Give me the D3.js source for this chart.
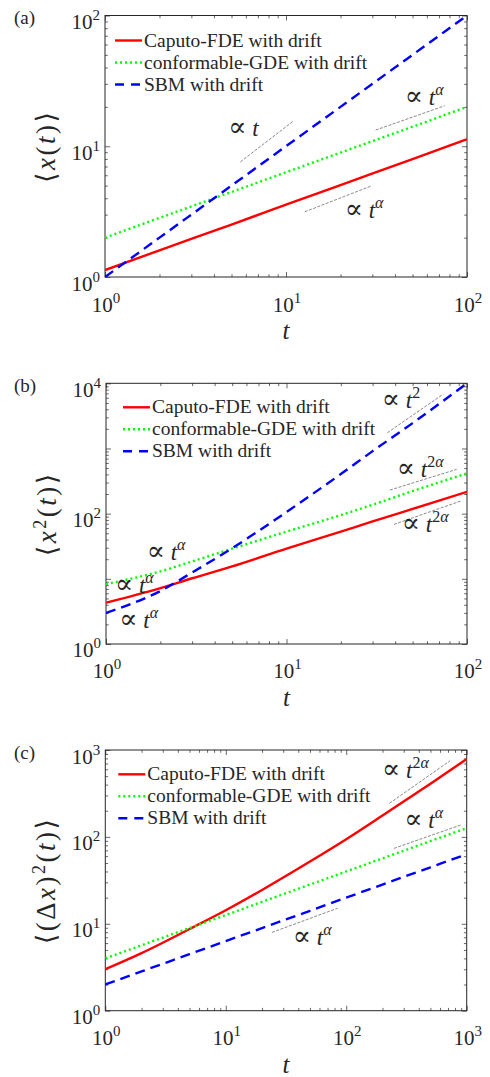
<!DOCTYPE html>
<html>
<head>
<meta charset="utf-8">
<script src="https://cdn.jsdelivr.net/npm/d3@7"></script>
<style>
body { margin: 0; background: #fff; }
svg text { font-family: "Liberation Serif", "DejaVu Serif", serif; fill: #262626; }
</style>
</head>
<body>
<div id="vis"></div>
<script>
const FRAME_WIDTH = 490;
const FRAME_HEIGHT = 1077;

const SERIES_NAMES = ["Caputo-FDE with drift", "conformable-GDE with drift", "SBM with drift"];
const SERIES_COLORS = ["#ff0000", "#00ff00", "#0000ff"];

// panel (a): <x(t)>
const T_A = [1, 2, 5, 10, 20, 50, 100];
const A_CAPUTO = [1.13, 1.6, 2.52, 3.57, 5.05, 7.98, 11.3];
const A_CONFORMABLE = [2.0, 2.83, 4.47, 6.32, 8.94, 14.1, 20.0];
const A_SBM = [1, 2, 5, 10, 20, 50, 100];
const A_GUIDES = [[5.6, 7.6, 11, 15.6], [31.3, 13.3, 75.3, 20.4], [12.7, 3.15, 29.7, 4.98]];
const A_NOTES = [[4.8, 11.9, ""], [45.3, 20.7, "α"], [21.1, 2.82, "α"]];

// panel (b): <x^2(t)>
const T_B = [1, 2, 3, 5, 10, 20, 30, 50, 100];
const B_CAPUTO = [4.3, 7.2, 10.2, 15.5, 29, 53, 76, 118, 216];
const B_CONFORMABLE = [8.3, 13, 18.5, 29, 53, 95, 137, 222, 415];
const B_SBM = [3, 6.5, 12.5, 29.5, 106, 405, 910, 2450, 10000];
const B_GUIDES = [[36.2, 1743, 73.9, 6830], [37.4, 230, 87.6, 478], [39.4, 68.4, 93.4, 158]];
const B_NOTES = [[33.7, 4120, "2"], [40.8, 368, "2α"], [43.5, 52.7, "2α"],
                 [1.68, 19.4, "α"], [1.12, 6.12, "α"], [1.185, 1.74, "α"]];

// panel (c): <(Δx)^2(t)>
const T_C = [1, 2, 5, 10, 20, 50, 100, 200, 500, 1000];
const C_CAPUTO = [3, 4.6, 8.7, 14.3, 24.5, 52, 94, 176, 410, 787];
const C_CONFORMABLE = [4, 5.66, 8.94, 12.6, 17.9, 28.3, 40, 56.6, 89.4, 126];
const C_SBM = [2, 2.83, 4.47, 6.32, 8.94, 14.1, 20, 28.3, 44.7, 63.2];
const C_GUIDES = [[228, 243, 728, 753], [249, 73.8, 892, 137], [24.2, 7.97, 84.9, 15.1]];
const C_NOTES = [[198, 472, "2α"], [303, 126, "α"], [36, 5.7, "α"]];

const PANELS = [
    {tag: "(a)", box: {left: 105, right: 467, top: 15.5, bottom: 277}, xMax: 100, yMax: 100,
     yLabelExp: [0, 1, 2], t: T_A, series: [A_CAPUTO, A_CONFORMABLE, A_SBM],
     guides: A_GUIDES, notes: A_NOTES, ylabel: "a", legend: {dx: 10, dy: 25}},
    {tag: "(b)", box: {left: 106, right: 467, top: 383.3, bottom: 644}, xMax: 100, yMax: 10000,
     yLabelExp: [0, 2, 4], t: T_B, series: [B_CAPUTO, B_CONFORMABLE, B_SBM],
     guides: B_GUIDES, notes: B_NOTES, ylabel: "b", legend: {dx: 17, dy: 24}},
    {tag: "(c)", box: {left: 105.3, right: 466.7, top: 750, bottom: 1010.7}, xMax: 1000, yMax: 1000,
     yLabelExp: [0, 1, 2, 3], t: T_C, series: [C_CAPUTO, C_CONFORMABLE, C_SBM],
     guides: C_GUIDES, notes: C_NOTES, ylabel: "c", legend: {dx: 13, dy: 24.3}}
];

const DASHES = [null, "2,3", "10,6"];

const FRAME = d3.select("#vis")
    .append("svg")
        .attr("width", FRAME_WIDTH)
        .attr("height", FRAME_HEIGHT)
        .attr("font-family", "'Liberation Serif', 'DejaVu Serif', serif");

function decades(max) {
    const out = [];
    for (let v = 1; v <= max; v *= 10) out.push(v);
    return out;
}
function minors(max) {
    const out = [];
    for (let d = 1; d < max; d *= 10) for (let k = 2; k <= 9; k++) out.push(d * k);
    return out;
}

// "10^n" as text with superscript
function powerLabel(sel, exp) {
    sel.append("tspan").text("10");
    sel.append("tspan").attr("dy", -9).attr("font-size", "15px").text(exp);
}

function drawPanel(p, idx) {
    const W = p.box.right - p.box.left;
    const H = p.box.bottom - p.box.top;
    const X = d3.scaleLog().domain([1, p.xMax]).range([0, W]);
    const Y = d3.scaleLog().domain([1, p.yMax]).range([H, 0]);

    const g = FRAME.append("g").attr("transform", `translate(${p.box.left},${p.box.top})`);

    g.append("clipPath").attr("id", "clip" + idx)
        .append("rect").attr("width", W).attr("height", H);

    // ticks on all four sides, pointing in
    const sides = [
        [d3.axisBottom, X, `translate(0,${H})`],
        [d3.axisTop, X, "translate(0,0)"],
        [d3.axisLeft, Y, "translate(0,0)"],
        [d3.axisRight, Y, `translate(${W},0)`]
    ];
    sides.forEach(([ax, sc, tr]) => {
        const max = sc === X ? p.xMax : p.yMax;
        [[decades(max), -5], [minors(max), -2.8]].forEach(([vals, size]) => {
            g.append("g").attr("transform", tr)
                .call(ax(sc).tickValues(vals).tickSize(size).tickFormat(""))
                .call(a => a.select(".domain").remove())
                .call(a => a.selectAll("line").attr("stroke", "#262626").attr("stroke-width", 0.7));
        });
    });

    g.append("rect")
        .attr("width", W).attr("height", H)
        .attr("fill", "none").attr("stroke", "#262626").attr("stroke-width", 1);

    // tick labels
    decades(p.xMax).forEach((v) => {
        g.append("text")
            .attr("x", X(v) + 1).attr("y", H + 34.5)
            .attr("text-anchor", "middle").attr("font-size", "21px")
            .call(s => powerLabel(s, Math.round(Math.log10(v))));
    });
    p.yLabelExp.forEach((e) => {
        g.append("text")
            .attr("x", -5).attr("y", Y(Math.pow(10, e)) + 13.5)
            .attr("text-anchor", "end").attr("font-size", "21px")
            .call(s => powerLabel(s, e));
    });

    // guide slopes
    g.selectAll(".guide").data(p.guides).enter()
        .append("line")
            .attr("x1", d => X(d[0])).attr("y1", d => Y(d[1]))
            .attr("x2", d => X(d[2])).attr("y2", d => Y(d[3]))
            .attr("stroke", "#555").attr("stroke-width", 0.7)
            .attr("stroke-dasharray", "3,1.5");

    // curves
    const line = d3.line()
        .x((d, i) => X(p.t[i]))
        .y(d => Y(d))
        .curve(d3.curveMonotoneX);
    p.series.forEach((s, i) => {
        g.append("path")
            .attr("d", line(s))
            .attr("clip-path", `url(#clip${idx})`)
            .attr("fill", "none")
            .attr("stroke", SERIES_COLORS[i])
            .attr("stroke-width", 2.4)
            .attr("stroke-dasharray", DASHES[i]);
    });

    // annotations
    p.notes.forEach((n) => {
        const t = g.append("text")
            .attr("x", X(n[0])).attr("y", Y(n[1]))
            .attr("font-size", "23px");
        t.append("tspan").attr("font-size", "27px").text("∝");
        t.append("tspan").text(" ");
        t.append("tspan").attr("font-style", "italic").text("t");
        if (n[2]) {
            const sup = n[2];
            t.append("tspan").attr("dy", -10).attr("font-size", "16px")
                .attr("font-style", sup === "α" ? "italic" : "normal")
                .text(sup[0]);
            if (sup.length > 1) {
                t.append("tspan").attr("font-size", "16px").attr("font-style", "italic").text(sup.slice(1));
            }
        }
    });

    // legend
    const lg = g.append("g").attr("transform", `translate(${p.legend.dx},${p.legend.dy})`);
    SERIES_NAMES.forEach((name, i) => {
        lg.append("line")
            .attr("x1", 0).attr("x2", 27)
            .attr("y1", i * 22).attr("y2", i * 22)
            .attr("stroke", SERIES_COLORS[i]).attr("stroke-width", 2.4)
            .attr("stroke-dasharray", i === 2 ? "9,7" : DASHES[i]);
        lg.append("text")
            .attr("x", 29).attr("y", i * 22 + 6)
            .attr("font-size", "19.5px")
            .text(name);
    });

    // axis titles
    g.append("text")
        .attr("x", W / 2).attr("y", H + 62)
        .attr("text-anchor", "middle").attr("font-size", "25px")
        .attr("font-style", "italic").text("t");

    const yl = g.append("text")
        .attr("transform", `translate(-50,${H / 2}) rotate(-90)`)
        .attr("text-anchor", "middle").attr("font-size", "27px")
        .attr("letter-spacing", "2.5px");
    if (p.ylabel === "a") {
        yl.append("tspan").text("⟨");
        yl.append("tspan").attr("font-style", "italic").text("x");
        yl.append("tspan").text("(");
        yl.append("tspan").attr("font-style", "italic").text("t");
        yl.append("tspan").text(")⟩");
    } else if (p.ylabel === "b") {
        yl.append("tspan").text("⟨");
        yl.append("tspan").attr("font-style", "italic").text("x");
        yl.append("tspan").attr("dy", -10).attr("font-size", "18px").text("2");
        yl.append("tspan").attr("dy", 10).text("(");
        yl.append("tspan").attr("font-style", "italic").text("t");
        yl.append("tspan").text(")⟩");
    } else {
        yl.append("tspan").text("⟨(Δ");
        yl.append("tspan").attr("font-style", "italic").text("x");
        yl.append("tspan").text(")");
        yl.append("tspan").attr("dy", -10).attr("font-size", "18px").text("2");
        yl.append("tspan").attr("dy", 10).text("(");
        yl.append("tspan").attr("font-style", "italic").text("t");
        yl.append("tspan").text(")⟩");
    }

    // panel tag
    g.append("text")
        .attr("x", 14 - p.box.left).attr("y", 8.5)
        .attr("font-size", "19px").text(p.tag);
}

PANELS.forEach(drawPanel);
</script>
</body>
</html>
